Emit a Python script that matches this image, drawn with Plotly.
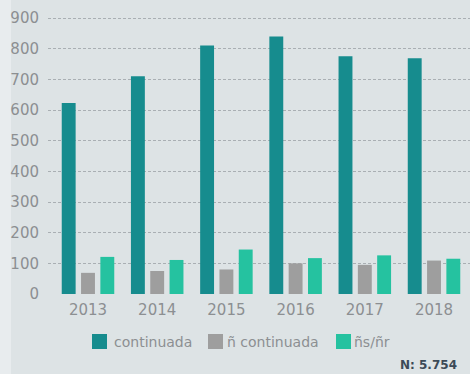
import plotly.graph_objects as go

# Annual counts per group
years = ["2013", "2014", "2015", "2016", "2017", "2018"]
continuada = [623, 710, 810, 840, 775, 769]
n_continuada = [69, 75, 80, 100, 95, 109]
ns_nr = [121, 111, 145, 117, 126, 115]

series_names = ["continuada", "ñ continuada", "ñs/ñr"]
series_colors = ["#168c8e", "#9e9e9e", "#25c2a0"]
sample_note = "N: 5.754"

W, H = 470, 374
PLOT_L, PLOT_R = 48, 470
PLOT_T, PLOT_B = 15, 294
Y_TOP = 909.8  # leaves a little headroom so the 900 gridline is drawn

fig = go.Figure()
for name, vals, col in zip(series_names, [continuada, n_continuada, ns_nr], series_colors):
    fig.add_trace(go.Bar(x=years, y=vals, name=name, marker=dict(color=col, line_width=0),
                         showlegend=False))


def px_to_paper_x(px):
    return (px - PLOT_L) / (PLOT_R - PLOT_L)


def px_to_paper_y(py):
    return (PLOT_B - py) / (PLOT_B - PLOT_T)


shapes = []
annotations = []

# faint lighter strip along the left edge of the page
shapes.append(dict(type="rect", xref="paper", yref="paper",
                   x0=px_to_paper_x(0), x1=px_to_paper_x(11),
                   y0=px_to_paper_y(H), y1=px_to_paper_y(0),
                   fillcolor="#e8ecee", line_width=0, layer="below"))

# hand-placed legend row below the axis
swatch_x = [92, 208, 336]
text_x = [112, 225, 352]
sw_top, sw_bot, row_mid = 334, 349, 342
for name, col, sx, tx in zip(series_names, series_colors, swatch_x, text_x):
    shapes.append(dict(type="rect", xref="paper", yref="paper",
                       x0=px_to_paper_x(sx), x1=px_to_paper_x(sx + 15),
                       y0=px_to_paper_y(sw_bot), y1=px_to_paper_y(sw_top),
                       fillcolor=col, line_width=0))
    annotations.append(dict(text=name, xref="paper", yref="paper",
                            x=px_to_paper_x(tx), y=px_to_paper_y(row_mid),
                            xanchor="left", yanchor="middle", showarrow=False,
                            font=dict(family="DejaVu Sans", size=14, color="#8c8f92")))

annotations.append(dict(text="<b>" + sample_note + "</b>", xref="paper", yref="paper",
                        x=px_to_paper_x(459), y=px_to_paper_y(365),
                        xanchor="right", yanchor="middle", showarrow=False,
                        font=dict(family="DejaVu Sans", size=12, color="#3c4a57")))

fig.update_layout(
    width=W, height=H,
    margin=dict(l=PLOT_L, r=W - PLOT_R, t=PLOT_T, b=H - PLOT_B, pad=0),
    paper_bgcolor="#dde3e5",
    plot_bgcolor="#dde3e5",
    barmode="group",
    bargap=0.163,
    bargroupgap=0.28,
    showlegend=False,
    shapes=shapes,
    annotations=annotations,
    font=dict(family="DejaVu Sans", color="#8c8f92"),
)

fig.update_xaxes(
    type="category",
    range=[-0.578, 5.52],
    showgrid=False, zeroline=False, showline=False, ticks="",
    tickfont=dict(family="DejaVu Sans", size=15, color="#8c8f92"),
    ticklabelstandoff=5,
)
fig.update_yaxes(
    range=[0, Y_TOP],
    tickvals=[0, 100, 200, 300, 400, 500, 600, 700, 800, 900],
    showgrid=True, gridcolor="#a9afb3", gridwidth=1, griddash="3px,2px",
    zeroline=False, showline=False, ticks="",
    tickfont=dict(family="DejaVu Sans", size=15, color="#8c8f92"),
    ticklabelstandoff=8,
)

fig.write_html("out.html")
